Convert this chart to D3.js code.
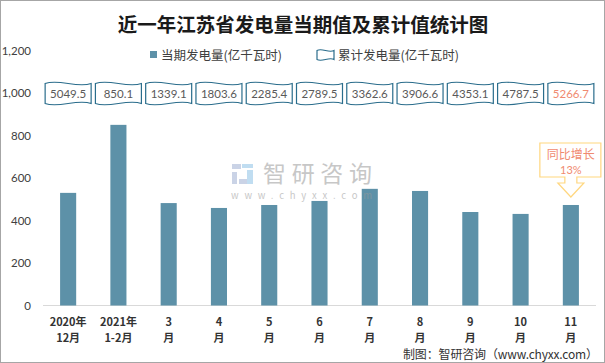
<!DOCTYPE html>
<html>
<head>
<meta charset="utf-8">
<script src="https://cdn.jsdelivr.net/npm/d3@7"></script>
<style>
  html, body { margin: 0; padding: 0; background: #fff; }
  svg { display: block; }
</style>
</head>
<body>
<svg id="chart"></svg>
<script>
// data
const categories = [["2020年", "12月"], ["2021年", "1-2月"], ["3", "月"], ["4", "月"], ["5", "月"], ["6", "月"], ["7", "月"], ["8", "月"], ["9", "月"], ["10", "月"], ["11", "月"]];
const monthly = [530, 850.1, 482, 459, 473, 492, 549, 539, 440, 431, 473];
const cumulative = ["5049.5", "850.1", "1339.1", "1803.6", "2285.4", "2789.5", "3362.6", "3906.6", "4353.1", "4787.5", "5266.7"];
const yTicks = [0, 200, 400, 600, 800, 1000, 1200];
const callout = ["同比增长", "13%"];

const W = 605, H = 363;
const FONT = "'Noto Sans CJK SC', 'Noto Sans', sans-serif";
const NUMFONT = "Lato, 'Noto Sans', sans-serif";
const BAR = "#5d91a8", WAVE = "#2a6d8c", SALMON = "#f08a70";

const svg = d3.select("#chart").attr("width", W).attr("height", H);
svg.append("rect").attr("x", 0.5).attr("y", 0.5).attr("width", W - 1).attr("height", H - 1)
  .attr("fill", "#fff").attr("stroke", "#a6a6a6");

const keys = categories.map((c, i) => i);
const x = d3.scaleBand().domain(keys).range([43, 596]).paddingInner(0.68).paddingOuter(0.34);
const y = d3.scaleLinear().domain([0, 1200]).range([305.5, 50.5]);
const cx = i => x(i) + x.bandwidth() / 2;

// title
svg.append("text").attr("x", 303).attr("y", 32).attr("text-anchor", "middle")
  .attr("font-family", FONT).attr("font-weight", 700).attr("font-size", 19.5).attr("fill", "#1a1a1a")
  .text("近一年江苏省发电量当期值及累计值统计图");

// y axis (labels only)
const yAxis = svg.append("g").attr("transform", "translate(31,0)")
  .call(d3.axisLeft(y).tickValues(yTicks).tickFormat(d3.format(",")).tickSize(0).tickPadding(0));
yAxis.select(".domain").remove();
yAxis.selectAll("text").attr("font-family", NUMFONT).attr("font-size", 11.5).attr("fill", "#404040");

// x axis line
svg.append("line").attr("x1", 43).attr("x2", 596).attr("y1", 305.5).attr("y2", 305.5)
  .attr("stroke", "#d9d9d9").attr("stroke-width", 1);

// bars
svg.append("g").selectAll("rect").data(monthly).join("rect")
  .attr("x", (d, i) => x(i)).attr("width", x.bandwidth())
  .attr("y", d => y(d)).attr("height", d => y(0) - y(d))
  .attr("fill", BAR);

// x labels
const xl = svg.append("g").selectAll("text").data(categories).join("text")
  .attr("x", (d, i) => cx(i)).attr("text-anchor", "middle")
  .attr("font-family", FONT).attr("font-weight", 700).attr("font-size", 11).attr("fill", "#333");
xl.append("tspan").attr("x", (d, i) => cx(i)).attr("y", 326).text(d => d[0]);
xl.append("tspan").attr("x", (d, i) => cx(i)).attr("y", 342).text(d => d[1]);

// wave-shaped boxes holding the cumulative values
function wavePath(x0, y0, w, h, a) {
  const p = d3.path();
  p.moveTo(x0, y0 + a);
  p.bezierCurveTo(x0 + w * 0.3, y0 - a, x0 + w * 0.7, y0 + 3 * a, x0 + w, y0 + a);
  p.lineTo(x0 + w, y0 + h - a);
  p.bezierCurveTo(x0 + w * 0.7, y0 + h - 3 * a, x0 + w * 0.3, y0 + h + a, x0, y0 + h - a);
  p.closePath();
  return p.toString();
}
const boxW = 46, boxH = 25, boxY = y(1000) - 12;
const flags = svg.append("g").selectAll("g").data(cumulative).join("g");
flags.append("path").attr("d", (d, i) => wavePath(cx(i) - boxW / 2, boxY, boxW, boxH, 2.5))
  .attr("fill", "#fff").attr("stroke", WAVE).attr("stroke-width", 1.2);
flags.append("text").attr("x", (d, i) => cx(i)).attr("y", boxY + boxH / 2 + 4)
  .attr("text-anchor", "middle").attr("font-family", NUMFONT).attr("font-size", 11.5)
  .attr("fill", (d, i) => i === cumulative.length - 1 ? SALMON : "#595959")
  .text(d => d);

// legend
const lg = svg.append("g").attr("font-family", FONT).attr("font-size", 12.5).attr("fill", "#404040");
lg.append("rect").attr("x", 150).attr("y", 51).attr("width", 7).attr("height", 7).attr("fill", BAR);
lg.append("text").attr("x", 161).attr("y", 59.5).text("当期发电量(亿千瓦时)");
lg.append("path").attr("d", wavePath(317, 49, 17, 12, 1.5)).attr("fill", "#fff").attr("stroke", WAVE).attr("stroke-width", 1.2);
lg.append("text").attr("x", 338).attr("y", 59.5).text("累计发电量(亿千瓦时)");

// watermark
const wm = svg.append("g").attr("opacity", 0.55);
wm.append("rect").attr("x", 232).attr("y", 164).attr("width", 9).attr("height", 5).attr("fill", "#9fb0d2");
wm.append("rect").attr("x", 232).attr("y", 172).attr("width", 5).attr("height", 12).attr("fill", "#9fb0d2");
wm.append("rect").attr("x", 242).attr("y", 164).attr("width", 11).attr("height", 4).attr("fill", "#8ec3e6");
wm.append("rect").attr("x", 247).attr("y", 170).attr("width", 6).attr("height", 14).attr("fill", "#8ec3e6");
wm.append("rect").attr("x", 239).attr("y", 179).attr("width", 8).attr("height", 5).attr("fill", "#9fb0d2");
wm.append("text").attr("x", 263).attr("y", 182).attr("font-family", FONT).attr("font-size", 23)
  .attr("fill", "#9a9a9a").attr("textLength", 109).text("智研咨询");
wm.append("text").attr("x", 231).attr("y", 199).attr("font-family", FONT).attr("font-size", 9.5)
  .attr("fill", "#9a9a9a").attr("textLength", 141).text("www.chyxx.com");

// callout on the last bar
const last = cumulative.length - 1;
const ccx = cx(last);
const c = d3.path();
c.moveTo(ccx - 31, 143); c.lineTo(ccx + 30, 143); c.lineTo(ccx + 30, 177);
c.lineTo(ccx + 6, 177); c.lineTo(ccx + 6, 183); c.lineTo(ccx + 13, 183);
c.lineTo(ccx, 197); c.lineTo(ccx - 13, 183); c.lineTo(ccx - 6, 183);
c.lineTo(ccx - 6, 177); c.lineTo(ccx - 31, 177); c.closePath();
svg.append("path").attr("d", c.toString()).attr("fill", "#fff").attr("stroke", "#ffd77f").attr("stroke-width", 1.2);
svg.append("text").attr("x", ccx).attr("y", 159).attr("text-anchor", "middle")
  .attr("font-family", FONT).attr("font-size", 12).attr("fill", SALMON).text(callout[0]);
svg.append("text").attr("x", ccx).attr("y", 174).attr("text-anchor", "middle")
  .attr("font-family", NUMFONT).attr("font-size", 11).attr("fill", SALMON).text(callout[1]);

// source note
svg.append("text").attr("x", 598).attr("y", 359).attr("text-anchor", "end")
  .attr("font-family", FONT).attr("font-size", 12).attr("fill", "#333")
  .attr("textLength", 195).text("制图：智研咨询（www.chyxx.com）");
</script>
</body>
</html>
